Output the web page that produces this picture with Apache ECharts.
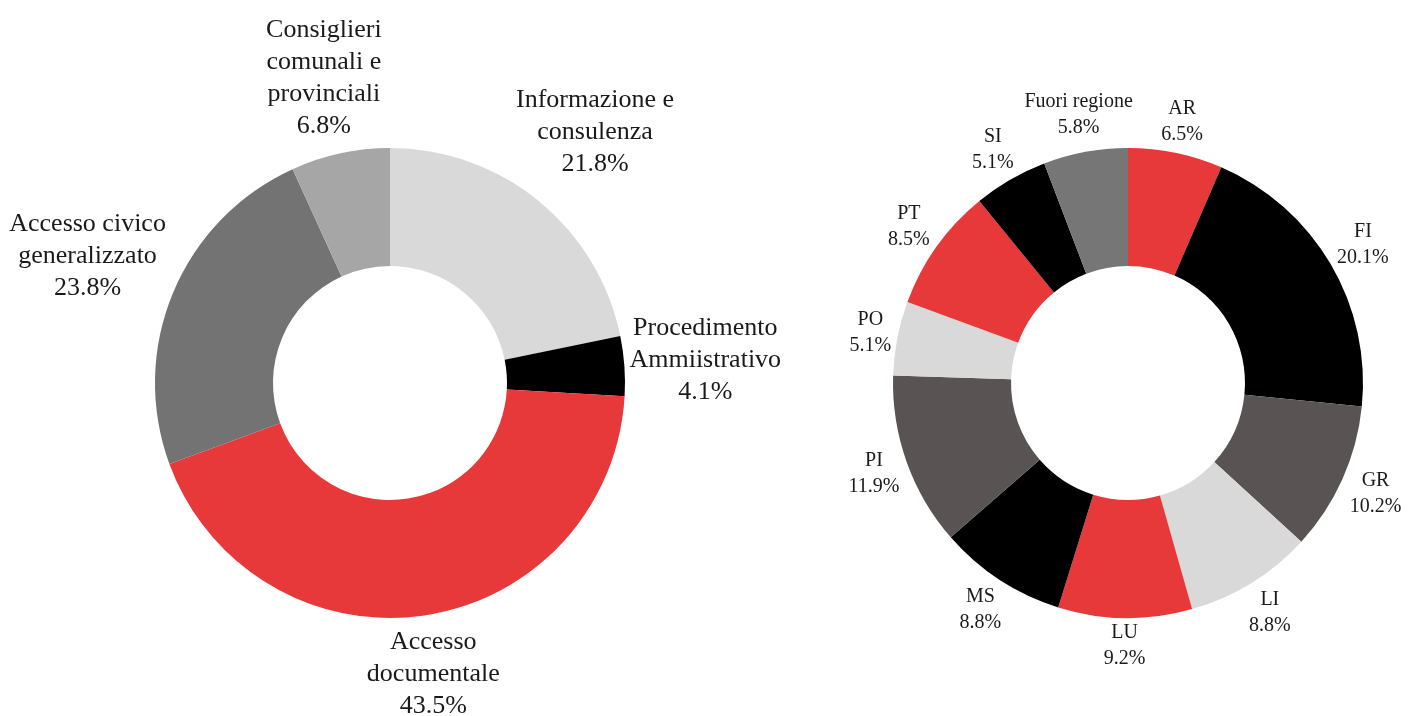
<!DOCTYPE html>
<html>
<head>
<meta charset="utf-8">
<script src="https://cdn.jsdelivr.net/npm/echarts@6/dist/echarts.min.js"></script>
<style>
html,body{margin:0;padding:0;background:#fff;}
#chart{width:1409px;height:716px;}
</style>
</head>
<body>
<div id="chart"></div>
<script>
const leftNames = ['Informazione e\nconsulenza', 'Procedimento\nAmmiistrativo', 'Accesso\ndocumentale', 'Accesso civico\ngeneralizzato', 'Consiglieri\ncomunali e\nprovinciali'];
const leftValues = [21.8, 4.1, 43.5, 23.8, 6.8];
const leftColors = ['#d9d9d9', '#000000', '#e8393a', '#737373', '#a6a6a6'];

const rightNames = ['AR', 'FI', 'GR', 'LI', 'LU', 'MS', 'PI', 'PO', 'PT', 'SI', 'Fuori regione'];
const rightValues = [6.5, 20.1, 10.2, 8.8, 9.2, 8.8, 11.9, 5.1, 8.5, 5.1, 5.8];
const rightColors = ['#e8393a', '#000000', '#595353', '#d9d9d9', '#e8393a', '#000000', '#595353', '#d9d9d9', '#e8393a', '#000000', '#767676'];

const FONT = '"Liberation Serif", "DejaVu Serif", serif';
const centers = [[390, 383], [1128, 383]];
const outerR = 235, innerR = 117;
const valuesBySeries = [leftValues, rightValues];

function midAngle(values, idx) {
  const total = values.reduce((a, b) => a + b, 0);
  let cum = 0;
  for (let i = 0; i < idx; i++) cum += values[i];
  return (cum + values[idx] / 2) / total * Math.PI * 2;
}

function labelLayout(params) {
  const s = params.seriesIndex;
  const a = midAngle(valuesBySeries[s], params.dataIndex);
  const w = params.labelRect.width, h = params.labelRect.height;
  const r = outerR + 2 + (w / 2) * Math.abs(Math.sin(a)) + (h / 2) * Math.abs(Math.cos(a));
  const c = centers[s];
  return {
    x: c[0] + r * Math.sin(a),
    y: c[1] - r * Math.cos(a),
    align: 'center',
    verticalAlign: 'middle'
  };
}

function makeSeries(names, values, colors, idx, fontSize, lineHeight) {
  return {
    type: 'pie',
    center: centers[idx],
    radius: [innerR, outerR],
    startAngle: 90,
    clockwise: true,
    animation: false,
    avoidLabelOverlap: false,
    silent: true,
    data: names.map((n, i) => ({ name: n, value: values[i], itemStyle: { color: colors[i] } })),
    label: {
      show: true,
      position: 'outside',
      formatter: p => p.name + '\n' + p.value.toFixed(1) + '%',
      fontFamily: FONT,
      fontSize: fontSize,
      lineHeight: lineHeight,
      color: '#1a1a1a',
      align: 'center'
    },
    labelLine: { show: false },
    labelLayout: labelLayout,
    itemStyle: { borderWidth: 0 }
  };
}

const chart = echarts.init(document.getElementById('chart'), null, { renderer: 'canvas' });
chart.setOption({
  backgroundColor: '#ffffff',
  animation: false,
  series: [
    makeSeries(leftNames, leftValues, leftColors, 0, 26, 32),
    makeSeries(rightNames, rightValues, rightColors, 1, 20, 26)
  ]
});
</script>
</body>
</html>
